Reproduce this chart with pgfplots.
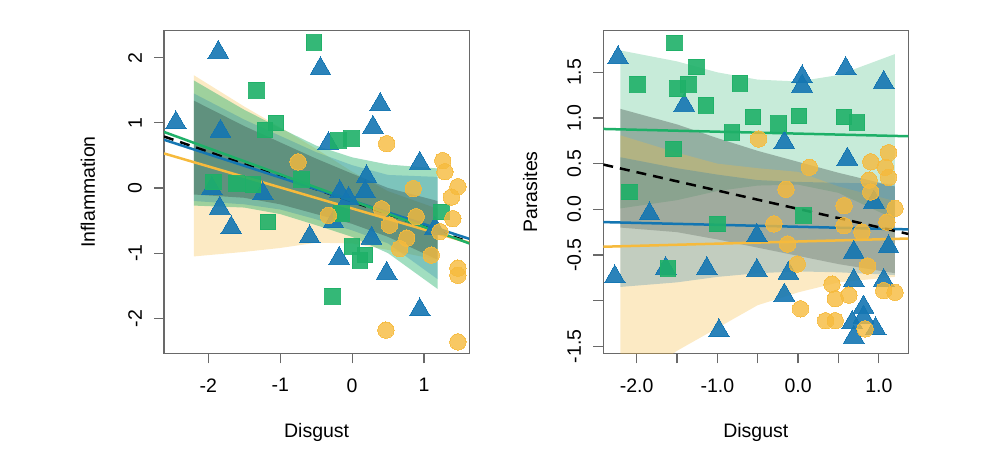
\documentclass[border=0pt]{standalone}
\usepackage{fontspec}
\setmainfont{Liberation Sans}
\usepackage{pgfplots}
\pgfplotsset{compat=1.18}
\definecolor{cblue}{RGB}{20,118,178}
\definecolor{cgreen}{RGB}{30,176,104}
\definecolor{corange}{RGB}{246,186,60}
\definecolor{cframe}{RGB}{105,105,105}
\pgfplotsset{
  rstyle/.style={
    scale only axis,
    anchor=south west,
    axis line style={cframe, line width=1.2pt},
    every tick/.style={cframe, line width=1.2pt},
    tick align=outside,
    major tick length=10pt,
    xtick pos=bottom, ytick pos=left,
    xticklabel style={anchor=north, inner sep=0pt},
    yticklabel style={rotate=90, anchor=south, inner sep=0pt},
    xticklabel shift=15pt,
    yticklabel shift=12pt,
    every axis x label/.style={at={(axis description cs:0.5,-0.244)}, anchor=center},
    every axis y label/.style={at={(axis description cs:-0.249,0.5)}, rotate=90, anchor=center},
    clip=true,
  },
  tri/.style={only marks, color=cblue, mark=triangle*, mark size=12pt, mark options={draw=cblue, fill=cblue, line width=0pt}, opacity=0.9},
  sqr/.style={only marks, color=cgreen, mark=square*, mark size=7.8pt, mark options={draw=cgreen, fill=cgreen, line width=0pt}, opacity=0.9},
  circ/.style={only marks, color=corange, mark=*, mark size=8.2pt, mark options={draw=corange, fill=corange, line width=0pt}, opacity=0.8},
}
\begin{document}
\fontsize{19.5}{23}\selectfont
\begin{tikzpicture}
\useasboundingbox (0pt,0pt) rectangle (1000pt,448pt);
% ---------------- Left panel ----------------
\begin{axis}[rstyle, at={(164pt,94.7pt)}, width=305.3pt, height=322.6pt,
  xmin=-2.615, xmax=1.629, ymin=-2.536, ymax=2.413,
  xtick={-2,-1,0,1}, xticklabels={-2,-1,0,1},
  ytick={-2,-1,0,1,2}, yticklabels={-2,-1,0,1,2},
  xlabel={Disgust}, ylabel={Inflammation}]
\addplot[tri] coordinates {(-2.45,1.0) (-1.86,2.08) (-0.44,1.83) (0.39,1.28) (0.29,0.93) (-0.33,0.68) (0.94,0.38) (-0.18,-1.08) (0.48,-1.31) (0.94,-1.87) (1.15,-0.62)
 (-1.83,0.87) (-1.95,-0.01) (-1.84,-0.31) (-1.68,-0.61) (-1.24,-0.09) (-0.59,-0.75) (0.20,0.17) (-0.17,-0.06) (-0.05,-0.16) (-0.26,-0.52) (0.18,-0.06) (0.27,-0.77)};
\addplot[sqr] coordinates {(-0.53,2.23) (-1.33,1.50) (-1.06,1.0) (-1.21,0.89) (-0.19,0.73) (-0.01,0.76) (1.24,-0.37) (-1.17,-0.52) (-1.93,0.09) (-1.61,0.07) (-1.38,0.05) (-0.70,0.13) (-0.15,-0.39) (0.0,-0.90) (0.11,-1.11) (0.18,-1.03) (-0.27,-1.66)};
\addplot[circ] coordinates {(0.48,0.68) (1.26,0.42) (1.29,0.25) (1.47,0.02) (1.38,-0.14) (1.40,-0.47) (1.47,-1.23) (1.47,-1.34) (0.47,-2.18) (1.47,-2.36) (0.85,-0.01) (0.76,-0.77) (0.66,-0.93) (1.10,-1.03) (0.89,-0.44) (1.22,-0.67) (0.41,-0.32) (-0.75,0.40) (-0.33,-0.42) (0.52,-0.57)};
% bands
\addplot[draw=none, fill=corange, fill opacity=0.3] coordinates {(-2.2,1.73) (-1.5,1.25) (-1,0.93) (-0.5,0.6) (0,0.25) (0.5,-0.05) (1.19,-0.32) (1.19,-1.1) (0.5,-0.95) (0,-0.85) (-0.5,-0.84) (-1,-0.92) (-1.5,-0.98) (-2.2,-1.05)};
\addplot[draw=none, fill=cgreen, fill opacity=0.42] coordinates {(-2.2,1.65) (-1.5,1.2) (-1.0,0.92) (-0.5,0.65) (0,0.47) (0.5,0.36) (1.19,0.30) (1.19,-1.55) (0.5,-1.0) (0,-0.75) (-0.5,-0.57) (-1.0,-0.4) (-1.5,-0.3) (-2.2,-0.27)};
\addplot[draw=none, fill=cblue, fill opacity=0.25] coordinates {(-2.2,1.45) (-1.5,1.05) (-1,0.8) (-0.5,0.55) (0,0.35) (0.5,0.2) (1.19,0.17) (1.19,-1.4) (0.5,-0.85) (0,-0.65) (-0.5,-0.48) (-1,-0.33) (-1.5,-0.25) (-2.2,-0.2)};
\addplot[draw=none, fill=black, fill opacity=0.22] coordinates {(-2.2,1.34) (-1.5,0.95) (-1,0.7) (-0.5,0.45) (0,0.22) (0.5,0.0) (1.19,-0.2) (1.19,-1.1) (0.5,-0.75) (0,-0.55) (-0.5,-0.4) (-1,-0.25) (-1.5,-0.15) (-2.2,-0.1)};
% lines
\addplot[black, line width=2.5pt, dash pattern=on 10pt off 7pt] coordinates {(-2.615,0.79) (1.629,-0.83)};
\addplot[corange, line width=2.5pt] coordinates {(-2.615,0.53) (1.629,-0.84)};
\addplot[cblue, line width=2.5pt] coordinates {(-2.615,0.74) (1.629,-0.78)};
\addplot[cgreen, line width=2.5pt] coordinates {(-2.615,0.86) (1.629,-0.85)};
\end{axis}
% ---------------- Right panel ----------------
\begin{axis}[rstyle, at={(603.3pt,94.7pt)}, width=305pt, height=322.6pt,
  xmin=-2.412, xmax=1.365, ymin=-1.577, ymax=1.956,
  xtick={-2,-1.5,-1,-0.5,0,0.5,1}, xticklabels={-2.0,,-1.0,,0.0,,1.0},
  ytick={-1.5,-1,-0.5,0,0.5,1,1.5}, yticklabels={-1.5,,-0.5,0.0,0.5,1.0,1.5},
  xlabel={Disgust}, ylabel={Parasites},
  every axis y label/.style={at={(axis description cs:-0.240,0.5)}, rotate=90, anchor=center}]
\addplot[tri] coordinates {(-2.23,1.66) (-1.41,1.14) (-2.27,-0.74) (0.05,1.45) (0.05,1.35) (-0.17,0.73) (0.59,1.54) (1.06,1.39) (0.61,0.55) (-0.98,-1.33) (-0.17,-0.94) (0.69,-0.47) (0.69,-0.78) (0.81,-1.07) (0.81,-1.18) (0.67,-1.24) (0.96,-1.31) (0.69,-1.40) (1.06,-0.78) (1.12,-0.41) (-1.84,-0.05) (-1.64,-0.65) (-1.13,-0.65) (-0.51,-0.67) (-0.12,-0.70) (-0.51,-0.29) (0.94,0.08)};
\addplot[sqr] coordinates {(-1.53,1.82) (-1.99,1.37) (-1.26,1.56) (-1.49,1.32) (-1.36,1.37) (-1.14,1.14) (-0.72,1.38) (-0.56,1.01) (-0.82,0.84) (-0.24,0.94) (0.01,1.02) (0.57,1.01) (0.73,0.95) (-1.54,0.66) (-2.09,0.19) (-1.61,-0.65) (-1.00,-0.16) (0.07,-0.07)};
\addplot[circ] coordinates {(-0.49,0.77) (0.14,0.46) (1.12,0.62) (0.90,0.52) (1.08,0.46) (1.12,0.35) (0.88,0.32) (0.90,0.19) (1.20,0.01) (0.57,0.04) (-0.15,0.22) (-0.30,-0.16) (-0.13,-0.38) (-0.01,-0.60) (0.03,-1.09) (0.34,-1.22) (0.46,-1.22) (0.42,-0.82) (0.46,-0.98) (0.63,-0.94) (1.06,-0.89) (1.20,-0.91) (0.83,-1.31) (0.57,-0.18) (0.79,-0.25) (0.86,-0.62) (1.10,-0.14)};
% bands
\addplot[draw=none, fill=cgreen, fill opacity=0.25] coordinates {(-2.2,1.74) (-1.5,1.62) (-1,1.50) (-0.5,1.42) (0,1.40) (0.5,1.47) (1.2,1.70) (1.2,-0.11) (0.5,0.18) (0,0.27) (-0.5,0.26) (-1,0.2) (-1.5,0.1) (-2.2,0.01)};
\addplot[draw=none, fill=black, fill opacity=0.25] coordinates {(-2.2,1.10) (-1.5,0.93) (-1,0.78) (-0.5,0.64) (0,0.52) (0.5,0.40) (1.2,0.25) (1.2,-0.70) (0.5,-0.6) (0,-0.51) (-0.5,-0.42) (-1,-0.33) (-1.5,-0.25) (-2.2,-0.20)};
\addplot[draw=none, fill=corange, fill opacity=0.3] coordinates {(-2.2,0.81) (-1.5,0.62) (-1,0.5) (-0.5,0.45) (0,0.41) (0.5,0.25) (1.2,0.09) (1.2,-0.74) (0.5,-0.8) (0,-0.91) (-0.5,-1.05) (-1,-1.3) (-1.5,-1.55) (-2.2,-2.0)};
\addplot[draw=none, fill=cblue, fill opacity=0.25] coordinates {(-2.2,0.57) (-1.5,0.45) (-1,0.38) (-0.5,0.32) (0,0.30) (0.5,0.29) (1.2,0.28) (1.2,-0.72) (0.5,-0.69) (0,-0.68) (-0.5,-0.7) (-1,-0.74) (-1.5,-0.8) (-2.2,-0.85)};
% lines
\addplot[cgreen, line width=2.5pt] coordinates {(-2.412,0.88) (1.365,0.80)};
\addplot[corange, line width=2.5pt] coordinates {(-2.412,-0.41) (1.365,-0.32)};
\addplot[cblue, line width=2.5pt] coordinates {(-2.412,-0.14) (1.365,-0.22)};
\addplot[black, line width=2.5pt, dash pattern=on 10pt off 7pt] coordinates {(-2.412,0.49) (1.365,-0.27)};
\end{axis}
\end{tikzpicture}
\end{document}
